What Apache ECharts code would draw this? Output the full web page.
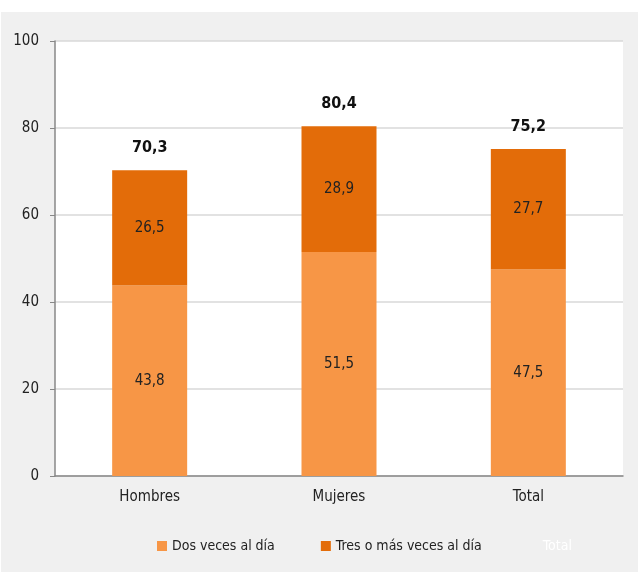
<!DOCTYPE html>
<html>
<head>
	<meta charset="utf-8">
	<title>Frecuencia</title>
	<script type="text/javascript" src="https://cdn.jsdelivr.net/npm/echarts@6/dist/echarts.min.js"></script>
	<style type="text/css">
		body{ margin:0; background:#fff; }
		#chart-1{
			position:absolute;
			left:1px;
			top:12px;
			width:637px;
			height:560px;
			background:#f0f0f0;
		}
	</style>
</head>
<body>
	<div id="chart-1"></div>
<script type="text/javascript">
	var categories = ['Hombres', 'Mujeres', 'Total'];
	var dosVeces = [43.8, 51.5, 47.5];
	var tresVeces = [26.5, 28.9, 27.7];
	var totales = [70.3, 80.4, 75.2];
	var yTicks = [0, 20, 40, 60, 80, 100];

	var FONT = '"Liberation Sans Narrow", "DejaVu Sans Condensed", "Roboto Condensed", sans-serif';
	function coma(v){ return String(v).replace('.', ','); }

	var myChart = echarts.init(document.getElementById('chart-1'));
	var option = {
		animation: false,
		textStyle: { fontFamily: FONT },
		grid: { left: 54, right: 15, top: 29, bottom: 96, backgroundColor: '#fff', show: true, borderWidth: 0 },
		legend: {
			left: 151, top: 522,
			itemWidth: 10, itemHeight: 10, itemGap: 46,
			textStyle: { fontFamily: FONT, fontSize: 14, color: '#222' },
			data: [
				{ name: 'Dos veces al día', icon: 'rect' },
				{ name: 'Tres o más veces al día', icon: 'rect' },
				{ name: 'Total', icon: 'none', textStyle: { color: '#fff' } }
			]
		},
		xAxis: {
			type: 'category',
			data: categories,
			axisLine: { lineStyle: { color: '#888', width: 1.5 } },
			axisTick: { length: 5, lineStyle: { color: '#888' } },
			axisLabel: { color: '#222', fontSize: 15, margin: 14, fontFamily: FONT }
		},
		yAxis: {
			type: 'value',
			min: yTicks[0], max: yTicks[yTicks.length - 1], interval: 20,
			axisLine: { show: true, lineStyle: { color: '#888', width: 1.5 } },
			axisTick: { show: true, length: 5, lineStyle: { color: '#888' } },
			axisLabel: { color: '#222', fontSize: 15, margin: 16, fontFamily: FONT },
			splitLine: { lineStyle: { color: '#d9d9d9', width: 1.5 } }
		},
		series: [
			{
				name: 'Dos veces al día', type: 'bar', stack: 'a', barWidth: 75,
				data: dosVeces,
				itemStyle: { color: '#f79646' },
				label: { show: true, position: 'inside', color: '#222', fontSize: 15, fontFamily: FONT,
					formatter: function(p){ return coma(p.value); } }
			},
			{
				name: 'Tres o más veces al día', type: 'bar', stack: 'a', barWidth: 75,
				data: tresVeces,
				itemStyle: { color: '#e36c09' },
				label: { show: true, position: 'inside', color: '#222', fontSize: 15, fontFamily: FONT,
					formatter: function(p){ return coma(p.value); } }
			},
			{
				name: 'Total', type: 'line',
				data: totales,
				symbol: 'circle', symbolSize: 1,
				itemStyle: { color: 'rgba(0,0,0,0)' },
				lineStyle: { opacity: 0 },
				label: { show: true, position: 'top', distance: 14, color: '#111', fontSize: 16, fontWeight: 'bold', fontFamily: FONT,
					formatter: function(p){ return coma(p.value); } }
			}
		]
	};
	myChart.setOption(option);
</script>
</body>
</html>
